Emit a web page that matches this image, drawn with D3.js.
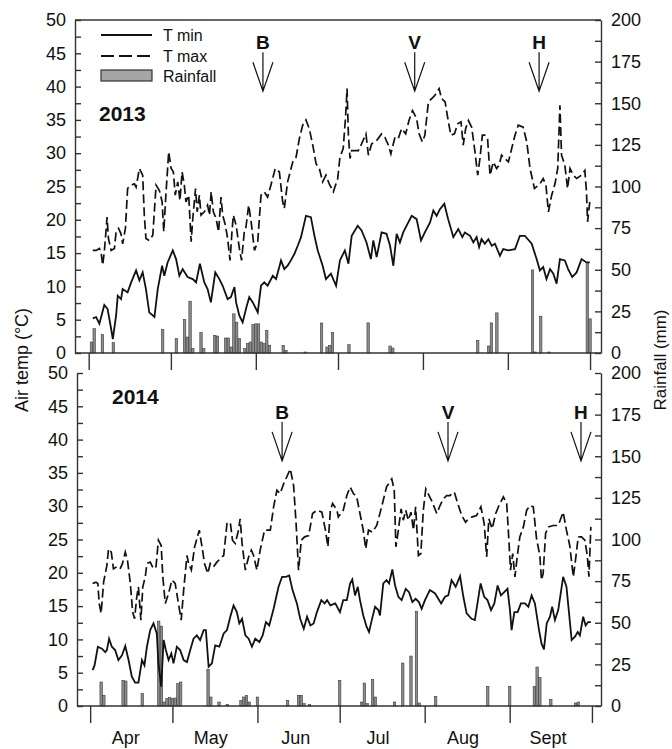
<!DOCTYPE html>
<html>
<head>
<meta charset="utf-8">
<script src="https://cdn.jsdelivr.net/npm/d3@7"></script>
<style>
  body { margin: 0; background: #fff; }
  text { font-family: "Liberation Sans", Arial, Helvetica, sans-serif; fill: #111; }
</style>
</head>
<body>
<div id="chart"></div>
<script>
// days are counted from 1 April (day 0) of each season

// --- 2013 ---
var tmin2013 = [[1.5,5.2],[2.7,5.4],[3.9,4.4],[5.7,7.2],[6.9,6.6],[8.2,3.6],[8.8,2.1],[10,5.6],[10.6,8.6],[11.8,8.1],
  [12.4,9.6],[14.2,9.1],[15.5,10.6],[17.3,12.4],[18.5,10.9],[19.7,12.1],[20.9,9.6],[22.1,6.1],[24,5.4],[25.2,9.6],
  [26.8,13.1],[27.6,11.6],[28.8,13.6],[30.7,15.4],[31.9,14.1],[33.1,11.6],[34.3,12.6],[36.1,11.4],[38,11.1],[39.2,10.6],
  [40.6,13.4],[42.2,10.6],[43.4,9.6],[44.6,7.6],[46.2,12.1],[47.7,11.1],[48.9,10.1],[50.7,8.1],[51.9,8.4],[53.2,9.9],
  [53.8,7.6],[55,5.6],[56.2,4.6],[57.4,6.6],[58.6,8.4],[59.9,7.6],[61.7,6.1],[62.9,10.1],[64.1,10.6],[65.3,10.1],
  [67.2,11.6],[68.4,11.1],[70.2,13.9],[71.4,12.6],[72.6,13.1],[73.8,13.9],[75.1,14.9],[76.3,16.1],[77.5,17.4],[79.3,20.6],
  [81.1,20.4],[82.4,17.6],[83.6,15.4],[85.4,13.1],[86.6,11.1],[88.4,11.9],[90.3,10.1],[91.7,13.9],[93.5,15.4],[94.8,13.4],
  [96,17.6],[98.2,19.1],[99.6,18.4],[101.4,16.6],[103,14.1],[103.9,16.9],[105.1,14.4],[106.9,18.1],[108.7,17.9],[110,16.1],
  [111.2,13.1],[112.4,17.9],[113.6,16.6],[114.8,18.1],[116,19.1],[117.9,20.6],[119.7,20.1],[121.3,16.9],[122.7,18.1],[124.6,19.6],
  [125.8,21.4],[127,20.6],[128.2,21.6],[129.8,22.4],[131.2,20.1],[133.1,17.4],[134.9,18.6],[136.4,17.4],[137.3,18.1],[139.2,17.6],
  [140.4,16.6],[141.6,17.4],[142.5,15.9],[143.4,17.1],[144.6,16.4],[145.9,17.1],[147.1,16.1],[148.3,16.4],[150.1,14.6],[151.3,15.6],
  [153.2,15.4],[155.6,15.6],[157.4,17.6],[159.2,17.6],[161.7,16.4],[163.5,14.1],[164.7,12.4],[165.9,12.9],[167.1,11.1],[168.4,12.6],
  [169.6,11.9],[170.8,10.4],[172,14.1],[173.8,13.9],[175,12.6],[176.5,11.4],[178.1,12.1],[179.9,14.1],[181.7,13.6],[182.9,13.6]];

var tmax2013 = [[1.5,15.4],[2.7,15.4],[3.9,15.7],[4.5,15.2],[5.1,13.2],[5.7,15.2],[6.3,18.2],[6.7,20.4],[7.2,17.2],[8.2,15.4],
  [9.4,15.7],[10,18.2],[10.9,18.7],[11.8,17.9],[12.4,16.4],[13.4,18.7],[14.2,24.7],[15.5,25.2],[16.7,25.4],[17.3,24.9],
  [18.5,27.7],[19.7,26.7],[20.3,20.7],[20.9,17.2],[22.1,16.9],[23.4,17.7],[24.6,25.2],[25.8,24.4],[26.8,22.7],[27.4,18.2],
  [28.2,23.9],[29.2,30.2],[30.1,27.7],[30.9,27.2],[31.6,23.7],[32.5,25.7],[33.3,22.9],[34.1,27.2],[34.9,25.2],[35.5,22.7],
  [36.5,23.7],[37.4,16.7],[38,20.2],[39,24.7],[39.6,21.2],[40.4,23.7],[41,20.7],[42.2,21.2],[43.4,22.2],[44.1,20.7],
  [44.7,24.2],[45.5,21.2],[46.5,20.2],[47.4,18.2],[48.3,23.4],[48.9,20.7],[49.9,19.2],[50.7,17.2],[51.6,13.9],[52.3,18.2],
  [52.8,20.7],[53.8,19.2],[55,15.7],[55.8,13.9],[56.8,18.2],[57.4,18.9],[58.4,22.2],[59.3,19.7],[60.5,15.4],[61.7,16.7],
  [62.9,23.7],[64.1,24.2],[65.3,23.4],[66.5,25.2],[68.1,27.7],[69.6,27.2],[70.8,22.7],[71.4,21.7],[72.6,25.7],[74.5,28.7],
  [75.7,29.4],[76.9,32.2],[78.1,34.2],[79.3,35],[80.5,33.7],[81.8,31.2],[83,28.4],[84.2,27.7],[85.4,25.7],[86.6,26.7],
  [87.8,25.4],[89.3,24.2],[90.9,26.2],[91.7,29.4],[92.9,30.7],[93.8,35.7],[94.3,39.7],[94.8,32.7],[95.4,29.2],[96,30.4],
  [98.4,30.4],[99.6,31.4],[101.2,32.9],[102.1,29.7],[103.3,31.4],[105.1,31.9],[106.9,32.9],[108.1,32.4],[109.4,31.2],[110.3,29.9],
  [111.8,32.4],[113,32.2],[114.2,33.7],[115.7,32.9],[116.9,34.9],[118.2,36.4],[119.7,35.2],[120.6,32.9],[121.8,31.7],[122.7,32.7],
  [124,37.7],[125.2,38.2],[126.4,38.7],[127.9,39.7],[128.8,38.2],[130.1,37.7],[131.3,34.7],[132.2,32.7],[133.5,32.9],[134.7,34.4],
  [135.9,34.7],[136.7,31.2],[137.6,33.7],[138.6,34.9],[139.8,33.9],[141,30.2],[142,26.7],[142.8,29.2],[143.7,32.7],[144.6,32.7],
  [145.6,32.2],[146.5,26.7],[147.7,28.7],[148.9,27.7],[149.8,28.2],[150.7,29.7],[151.9,29.2],[153.2,28.7],[154.4,30.7],[155.6,32.7],
  [156.8,34.2],[158.6,33.9],[159.9,31.7],[161.1,27.7],[162.7,24.7],[164.7,25.4],[165.9,26.2],[166.9,25.2],[167.8,21.2],[169,23.7],
  [170.2,25.4],[171.2,27.7],[172,37.2],[172.6,29.7],[173.8,28.2],[174.8,24.7],[175.7,27.7],[176.9,26.7],[178.1,26.2],[179.9,26.7],
  [181.1,27.4],[181.7,24.2],[182.1,19.7],[182.9,22.7]];

var rain2013 = [[1,6.6],[2,14.6],[5,11.2],[9,6.2],[27,14],[32,8.6],[35,20.1],[36,9.6],[37,31.1],[38,2.6],
  [41,12.2],[42,2.6],[46,10.6],[47,10.2],[50,9],[51,9],[52,3.6],[53,23.5],[54,18.5],[55,8.6],
  [57,2.6],[58,5.6],[59,6.6],[60,17],[61,17.5],[62,17.5],[63,6.6],[64,5.6],[65,13.6],[66,4.6],
  [71,4.6],[72,1.6],[79,0.6],[85,18],[87,3.6],[88,4.6],[89,12.2],[95,5],[102,18.1],[110,4.2],
  [111,3],[142,7.6],[146,4.2],[147,18.1],[149,24.1],[162,49.9],[163,0.6],[165,22.1],[168,0.6],[182,54.4],[183,20.5]];

// --- 2014 ---
var tmin2014 = [[0.9,5.4],[1.6,6.1],[2.8,8.9],[4.3,8.6],[5.5,8.1],[6.1,8.4],[6.9,10.1],[7.9,8.9],[9.1,8.4],[10.3,6.9],
  [11.6,7.6],[12.8,9],[14,6.9],[15.2,4.4],[16.4,3.5],[17.6,3.5],[18.9,6.9],[19.8,6.1],[20.7,8.9],[21.9,11.4],
  [23.1,12.4],[24.3,10.9],[24.9,6.4],[25.9,2.9],[26.8,9.9],[27.6,8.4],[28.6,6.9],[29.6,7.9],[30.4,6.4],[31.6,8.9],
  [32.8,8.4],[34.1,6.9],[35.3,6.6],[36.5,8.4],[37.7,10.1],[38.9,10.6],[40.1,9.9],[41.4,11.4],[42.2,11.4],[43.2,5.9],
  [44.4,6.4],[45.6,9.1],[47.1,8.9],[48.7,10.9],[49.9,11.4],[51.1,13.4],[52.3,15.1],[53.5,14.1],[54.4,12.4],[55.4,13.1],
  [56.6,10.6],[57.8,10.1],[59,8.9],[60.2,10.1],[61.7,9.6],[62.9,10.6],[64.1,12.6],[65.3,12.1],[66.9,14.6],[68.7,17.9],
  [70,19.4],[71.4,19.4],[72.6,19.6],[73.8,17.4],[75.4,15.4],[76.6,13.1],[77.9,11.6],[79.1,13.4],[80.3,12.1],[81.5,12.4],
  [82.7,14.1],[84.3,15.9],[85.5,15.4],[86.4,15.9],[87.6,15.1],[89.4,15.4],[91.1,14.1],[92.3,15.9],[93.6,15.9],[94.8,18.4],
  [95.6,19],[96.6,16.6],[97.6,17.9],[98.4,15.9],[99.6,13.6],[100.8,11.9],[101.7,11.1],[102.7,12.9],[103.9,14.9],[105.1,14.4],
  [105.7,13.6],[106.9,18.4],[108.1,18.9],[109,18.4],[110.2,20.5],[111.2,18.1],[112.4,16.4],[113.6,15.9],[115.1,17.6],[116.3,17.1],
  [117.5,15.6],[118.7,16.1],[119.9,15.6],[120.9,14.6],[122.1,15.9],[123.9,17.4],[125.8,16.9],[128,15.4],[129.4,16.4],[130.6,16.6],
  [131.8,18.9],[133.3,17.9],[134.9,19.5],[136.1,16.4],[137.3,13.9],[139.1,13.1],[140.3,12.9],[141.5,16.1],[142.4,18.4],[143.7,16.4],
  [144.9,15.9],[146.2,14.4],[147.4,15.4],[148.6,18.1],[149.8,16.6],[151,17.1],[152.2,17.6],[153.1,14.4],[153.7,11.4],[154.7,14.1],
  [155.9,14.1],[157.1,15.4],[158.6,15.4],[159.8,14.9],[161,16.6],[162.2,15.4],[163.7,11.4],[164.6,9.4],[165.5,8.5],[166.5,12.4],
  [167.7,13.4],[168.5,14.9],[169.5,12.9],[170.7,14.4],[172.5,19.4],[173.7,17.9],[175.6,9.9],[176.8,10.4],[177.8,11.1],[178.6,10.6],
  [179.8,13.4],[180.7,12.1],[181.6,12.6],[182.6,12.6]];

var tmax2014 = [[0.9,18.4],[2.1,18.6],[2.8,18.4],[3.3,15.4],[4,13.9],[4.9,18.6],[6.1,21.1],[6.7,23.6],[7.7,23.1],[8.5,20.6],
  [9.7,20.9],[10.9,20.6],[11.8,21.4],[12.8,23.1],[13.6,21.9],[14.6,18.6],[15.5,14.1],[16.2,13.1],[17,16.4],[17.6,17.9],
  [18.5,12.9],[19.2,17.9],[20.1,19.4],[20.7,21.4],[21.9,21.6],[23.1,20.6],[24,20.9],[24.9,24.9],[25.9,24.1],[26.5,19.4],
  [27.4,15.4],[28.6,16.9],[29.8,18.9],[31,18.4],[32.2,15.4],[33.2,12.9],[34.1,17.4],[35.3,22.6],[35.9,21.4],[36.9,20.4],
  [38.1,23.9],[39.8,26.4],[40.8,23.9],[41.7,21.4],[42.9,19.9],[43.8,21.4],[45,20.9],[46.2,21.6],[47.4,22.1],[48.7,22.6],
  [49.9,27.4],[51.1,27.6],[51.9,24.9],[52.9,24.4],[54.1,26.4],[54.7,28.1],[55.4,24.4],[56.6,20.4],[57.8,22.4],[58.8,23.4],
  [59.6,22.6],[60.8,20.4],[62,23.4],[63.6,26.4],[65.7,26.4],[66.9,29.9],[68.1,32.4],[69.3,31.9],[70.6,33.4],[73,35.6],
  [74.2,33.1],[75.1,27.4],[76,20.4],[77,24.9],[78.2,25.4],[79.7,25.6],[81.1,28.9],[82.7,29.4],[84.5,29.1],[85.8,26.4],
  [86.7,23.9],[87.6,29.4],[88.4,30.4],[90,29.4],[90.5,28.4],[92.3,29.4],[93.6,31.6],[94.8,32.9],[96,31.9],[97.2,31.4],
  [98.4,28.9],[99.6,26.4],[100.5,23.6],[101.5,26.4],[102.9,26.1],[104.5,27.1],[106.3,29.9],[108.1,32.9],[110,34.1],[110.9,32.4],
  [111.5,23.9],[112.4,26.4],[113.4,29.6],[114.2,27.9],[115.1,29.4],[116,27.9],[117,29.1],[117.9,26.4],[118.7,29.9],[119.7,22.6],
  [120.6,22.9],[121.5,29.4],[122.4,32.6],[123.6,31.6],[124.8,30.6],[126.4,28.9],[127.6,30.1],[128.8,31.1],[130,31.6],[131.2,31.6],
  [132.8,32.1],[134.3,30.1],[135.5,28.6],[136.9,27.6],[137.9,28.1],[139.4,28.4],[140.9,28.6],[142.5,29.9],[143.7,27.4],[144.6,22.4],
  [145.4,28.1],[146.6,26.6],[147.9,28.9],[149.1,30.1],[150.7,31.4],[151.9,30.4],[152.5,26.4],[153.3,20.4],[154.1,22.9],[154.9,19.4],
  [155.9,22.9],[156.7,25.4],[158,26.9],[159.2,29.4],[160.4,30.1],[161.6,29.9],[162.8,25.1],[164,22.6],[164.6,18.9],[165.2,19.9],
  [166.1,25.9],[167.1,26.9],[168.9,27.1],[170.7,27.1],[172.5,29.1],[173.7,26.4],[174.9,24.1],[176.2,19.4],[177,21.9],[178,25.4],
  [179.2,25.4],[180.4,24.9],[181.3,22.6],[181.9,19.4],[182.6,26.9]];

var rain2014 = [[4,14.4],[5,6.4],[12,15.4],[13,15],[19,7.4],[25,51],[26,48],[27,2.4],[28,4.4],[29,5],
  [30,4.4],[31,4.8],[32,13.4],[33,14.4],[43,22],[44,5.4],[47,2.4],[50,1],[55,3.4],[56,5.4],
  [57,6.4],[58,2.4],[61,5.4],[72,3.4],[76,6.4],[77,6.4],[78,1.4],[80,0.8],[91,15.4],[99,2.4],
  [100,13.8],[101,1.4],[103,15.8],[104,5.4],[111,2.4],[114,25.8],[117,30],[119,56.9],[120,1.8],[126,5.8],
  [145,11.8],[153,11.8],[162,11.8],[163,23.4],[164,17],[168,3.8],[177,1.8],[178,2.4]];

// growth stages (B, V, H) and the day each arrow points at
var stages = ["B", "V", "H"];
var stageDays2013 = [63.6, 119, 164.4];
var stageDays2014 = [70, 130.5, 179];

// month ticks and labels
var monthStarts = [0, 30, 61, 91, 122, 153, 183];
var monthMids = [13, 44, 75, 105, 136, 167];
var monthNames = ["Apr", "May", "Jun", "Jul", "Aug", "Sept"];

var width = 672, height = 749;

var svg = d3.select("#chart")
  .append("svg")
    .attr("width", width)
    .attr("height", height);

var panels = [
  {year: "2013", tmin: tmin2013, tmax: tmax2013, rain: rain2013, stageDays: stageDays2013,
   top: 20, bottom: 353, left: 75, right: 601, dayDomain: [-5, 187], frameTop: true,
   yearX: 99, yearY: 121, letterT: 45.6, tipT: 39.3, labels: false},
  {year: "2014", tmin: tmin2014, tmax: tmax2014, rain: rain2014, stageDays: stageDays2014,
   top: 373, bottom: 706, left: 77, right: 601, dayDomain: [-4.8, 186.3], frameTop: false,
   yearX: 112, yearY: 404, letterT: 43.1, tipT: 36.8, labels: true}
];

panels.forEach(function(p) {
  var x = d3.scaleLinear().domain(p.dayDomain).range([p.left, p.right]);
  var y = d3.scaleLinear().domain([0, 50]).range([p.bottom, p.top]);
  var yr = d3.scaleLinear().domain([0, 200]).range([p.bottom, p.top]);

  var g = svg.append("g");

  // rainfall bars
  g.selectAll(".bar")
    .data(p.rain)
    .enter()
    .append("rect")
      .attr("class", "bar")
      .attr("x", function(d) { return x(d[0]) - 1.2; })
      .attr("y", function(d) { return yr(d[1]); })
      .attr("width", 2.4)
      .attr("height", function(d) { return yr(0) - yr(d[1]); })
      .attr("fill", "#8c8c8c")
      .attr("stroke", "#3a3a3a")
      .attr("stroke-width", 0.6);

  var line = d3.line()
    .x(function(d) { return x(d[0]); })
    .y(function(d) { return y(d[1]); });

  g.append("path")
    .datum(p.tmax)
    .attr("d", line)
    .attr("fill", "none")
    .attr("stroke", "#111")
    .attr("stroke-width", 1.7)
    .attr("stroke-dasharray", "9,4");

  g.append("path")
    .datum(p.tmin)
    .attr("d", line)
    .attr("fill", "none")
    .attr("stroke", "#111")
    .attr("stroke-width", 1.8);

  // axes
  var yAxis = g.append("g")
    .attr("transform", "translate(" + p.left + ",0)")
    .call(d3.axisLeft(y)
      .tickValues(d3.range(0, 50.1, 2.5))
      .tickFormat(function(d) { return d % 5 === 0 ? d : ""; })
      .tickSizeInner(-6).tickSizeOuter(0).tickPadding(9));

  var rAxis = g.append("g")
    .attr("transform", "translate(" + p.right + ",0)")
    .call(d3.axisRight(yr)
      .tickValues(d3.range(0, 200.1, 12.5))
      .tickFormat(function(d) { return d % 25 === 0 ? d : ""; })
      .tickSizeInner(-6).tickSizeOuter(0).tickPadding(10));

  var xAxis = g.append("g")
    .attr("transform", "translate(0," + p.bottom + ")")
    .call(d3.axisBottom(x)
      .tickValues(monthStarts)
      .tickFormat("")
      .tickSizeInner(17).tickSizeOuter(0));

  xAxis.select(".domain").attr("d", "M" + p.left + ",0H" + p.right);

  [yAxis, rAxis, xAxis].forEach(function(a) {
    a.selectAll("path, line").attr("stroke", "#333").attr("stroke-width", 1.4);
    a.selectAll("text").style("font-size", "18px").attr("fill", "#111");
  });

  if (p.frameTop) {
    g.append("line")
      .attr("x1", p.left).attr("x2", p.right)
      .attr("y1", p.top).attr("y2", p.top)
      .attr("stroke", "#333").attr("stroke-width", 1.4);
  }

  // year label
  g.append("text")
    .attr("x", p.yearX)
    .attr("y", p.yearY)
    .style("font-size", "21px")
    .style("font-weight", "bold")
    .text(p.year);

  // stage arrows
  stages.forEach(function(s, i) {
    var ax = x(p.stageDays[i]);
    var yl = y(p.letterT), yt = y(p.tipT);
    g.append("text")
      .attr("x", ax).attr("y", yl)
      .attr("text-anchor", "middle")
      .style("font-size", "19px")
      .style("font-weight", "bold")
      .text(s);
    g.append("path")
      .attr("d", "M" + ax + "," + (yl + 3) + "V" + yt +
                 "M" + (ax - 10) + "," + (yt - 29) + "L" + ax + "," + yt + "L" + (ax + 10) + "," + (yt - 29))
      .attr("fill", "none")
      .attr("stroke", "#111")
      .attr("stroke-width", 1.2);
  });

  // month names under the lower panel
  if (p.labels) {
    g.selectAll(".month")
      .data(monthNames)
      .enter()
      .append("text")
        .attr("class", "month")
        .attr("x", function(d, i) { return x(monthMids[i]); })
        .attr("y", 744)
        .attr("text-anchor", "middle")
        .style("font-size", "18px")
        .text(function(d) { return d; });
  }
});

// legend
var leg = svg.append("g");
leg.append("line").attr("x1", 101).attr("x2", 152).attr("y1", 35).attr("y2", 35)
  .attr("stroke", "#111").attr("stroke-width", 1.8);
leg.append("line").attr("x1", 101).attr("x2", 152).attr("y1", 56).attr("y2", 56)
  .attr("stroke", "#111").attr("stroke-width", 1.8).attr("stroke-dasharray", "13,5");
leg.append("rect").attr("x", 101).attr("y", 70).attr("width", 51).attr("height", 11)
  .attr("fill", "#a6a6a6").attr("stroke", "#333").attr("stroke-width", 1.2);
leg.selectAll(".legtext")
  .data(["T min", "T max", "Rainfall"])
  .enter()
  .append("text")
    .attr("x", 163)
    .attr("y", function(d, i) { return [41, 62, 82][i]; })
    .style("font-size", "16px")
    .text(function(d) { return d; });

// axis titles
svg.append("text")
  .attr("transform", "translate(28,360) rotate(-90)")
  .attr("text-anchor", "middle")
  .style("font-size", "18px")
  .text("Air temp (°C)");

svg.append("text")
  .attr("transform", "translate(666,360) rotate(-90)")
  .attr("text-anchor", "middle")
  .style("font-size", "17px")
  .text("Rainfall (mm)");
</script>
</body>
</html>
